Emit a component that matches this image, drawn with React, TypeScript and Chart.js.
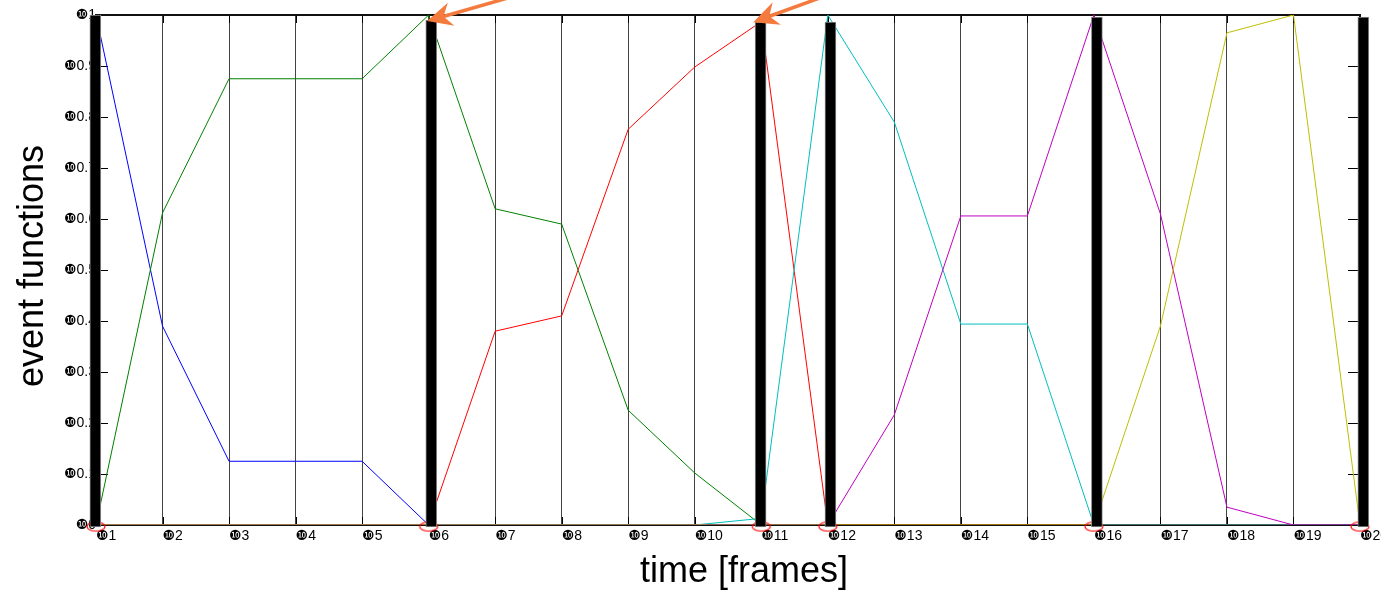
import { useEffect, useRef } from 'react';
import { Chart, registerables } from 'chart.js';

Chart.register(...registerables);

// ---------- data ----------
const frames = [1, 2, 3, 4, 5, 6, 7, 8, 9, 10, 11, 12, 13, 14, 15, 16, 17, 18, 19, 20];
const xTickLabels = ['❿1', '❿2', '❿3', '❿4', '❿5', '❿6', '❿7', '❿8', '❿9', '❿10', '❿11', '❿12', '❿13', '❿14', '❿15', '❿16', '❿17', '❿18', '❿19', '❿20'];
const yTickLabels = ['❿0', '❿0.1', '❿0.2', '❿0.3', '❿0.4', '❿0.5', '❿0.6', '❿0.7', '❿0.8', '❿0.9', '❿1'];

const blueSeries = [1, 0.39, 0.125, 0.125, 0.125, 0, 0, 0, 0, 0, 0, 0, 0, 0, 0, 0, 0, 0, 0, 0];
const greenSeries = [0, 0.612, 0.875, 0.875, 0.875, 1, 0.62, 0.59, 0.225, 0.102, 0, 0, 0, 0, 0, 0, 0, 0, 0, 0];
const redSeries = [0, 0, 0, 0, 0, 0, 0.38, 0.41, 0.776, 0.898, 0.987, 0, 0, 0, 0, 0, 0, 0, 0, 0];
const cyanSeries = [0, 0, 0, 0, 0, 0, 0, 0, 0, 0, 0.013, 1, 0.79, 0.394, 0.394, 0, 0, 0, 0, 0];
const magentaSeries = [0, 0, 0, 0, 0, 0, 0, 0, 0, 0, 0, 0, 0.216, 0.606, 0.606, 1, 0.61, 0.035, 0, 0];
const yellowSeries = [0, 0, 0, 0, 0, 0, 0, 0, 0, 0, 0, 0, 0, 0, 0, 0, 0.39, 0.965, 1, 0];

// event markers (thick black bars) and red ellipses at the detected frames
const eventFrames = [1, 6, 11, 12, 16, 20];
const eventBarX = [0.99, 6.04, 10.99, 12.04, 16.045, 20.05];
const eventBarTop = [1.0, 0.99, 0.986, 0.986, 0.996, 0.996];
const eventBarBase = -0.004;
const eventMarkY = -0.003;

// orange arrows (tip in data units, angle of shaft in degrees)
const arrowTipX = [5.977, 10.88];
const arrowTipY = [0.988, 0.986];
const arrowAngleDeg = [16, 20];

const xTitle = 'time [frames]';
const yTitle = 'event functions';

// ---------- helpers ----------
const FONT = "'Liberation Sans', Arial, 'DejaVu Sans', sans-serif";

function toPoints(series: number[]) {
  return frames.map((f, i) => ({ x: f, y: series[i] }));
}

function makeEllipse(): HTMLCanvasElement {
  const c = document.createElement('canvas');
  c.width = 22;
  c.height = 12;
  const g = c.getContext('2d')!;
  g.strokeStyle = '#ff0000';
  g.lineWidth = 1.2;
  g.beginPath();
  g.ellipse(11, 6, 9, 4.5, 0, 0, Math.PI * 2);
  g.stroke();
  return c;
}

const decorPlugin = {
  id: 'decor',
  beforeDatasetsDraw(chart: any) {
    const { ctx, chartArea: a, scales } = chart;
    const xs = scales.x;
    const ys = scales.y;
    ctx.save();
    ctx.strokeStyle = '#000';
    ctx.lineWidth = 1;
    ctx.beginPath();
    frames.forEach((f) => {
      const px = Math.round(xs.getPixelForValue(f)) + 0.5;
      ctx.moveTo(px, a.top);
      ctx.lineTo(px, a.top + 8);
      ctx.moveTo(px, a.bottom);
      ctx.lineTo(px, a.bottom - 8);
    });
    ys.ticks.forEach((t: any) => {
      const py = Math.round(ys.getPixelForValue(t.value)) + 0.5;
      ctx.moveTo(a.left, py);
      ctx.lineTo(a.left + 12, py);
      ctx.moveTo(a.right, py);
      ctx.lineTo(a.right - 12, py);
    });
    ctx.stroke();
    ctx.lineWidth = 2;
    ctx.strokeStyle = '#111';
    ctx.strokeRect(a.left, a.top, a.right - a.left, a.bottom - a.top);
    ctx.restore();
  },
  afterDraw(chart: any) {
    const { ctx, chartArea: a, scales } = chart;
    const xs = scales.x;
    const ys = scales.y;
    ctx.save();
    // arrows
    arrowTipX.forEach((tx, i) => {
      const px = xs.getPixelForValue(tx);
      const py = ys.getPixelForValue(arrowTipY[i]);
      const th = (arrowAngleDeg[i] * Math.PI) / 180;
      const dx = Math.cos(th);
      const dy = -Math.sin(th);
      const nx = -dy;
      const ny = dx;
      ctx.strokeStyle = '#f47b3d';
      ctx.fillStyle = '#f47b3d';
      ctx.lineWidth = 3.5;
      ctx.beginPath();
      ctx.moveTo(px + dx * 15, py + dy * 15);
      ctx.lineTo(px + dx * 160, py + dy * 160);
      ctx.stroke();
      ctx.beginPath();
      ctx.moveTo(px, py);
      ctx.lineTo(px + dx * 25 + nx * 12, py + dy * 25 + ny * 12);
      ctx.lineTo(px + dx * 17, py + dy * 17);
      ctx.lineTo(px + dx * 25 - nx * 12, py + dy * 25 - ny * 12);
      ctx.closePath();
      ctx.fill();
    });
    // titles
    ctx.fillStyle = '#000';
    ctx.font = `36px ${FONT}`;
    ctx.textAlign = 'center';
    ctx.textBaseline = 'alphabetic';
    ctx.fillText(xTitle, (a.left + a.right) / 2 + 16, a.bottom + 57);
    ctx.translate(43, (a.top + a.bottom) / 2 - 4);
    ctx.rotate(-Math.PI / 2);
    ctx.fillText(yTitle, 0, 0);
    ctx.restore();
  },
};

export default function App() {
  const ref = useRef<HTMLCanvasElement | null>(null);

  useEffect(() => {
    if (!ref.current) return;
    const ellipse = makeEllipse();
    const lineDs = (data: number[], color: string, order: number) => ({
      type: 'line' as const,
      data: toPoints(data),
      borderColor: color,
      backgroundColor: color,
      borderWidth: 1,
      pointRadius: 0,
      tension: 0,
      fill: false,
      order,
    });
    const chart = new Chart(ref.current, {
      type: 'line',
      data: {
        datasets: [
          {
            type: 'bar',
            data: eventBarX.map((x, i) => ({ x, y: [eventBarBase, eventBarTop[i]] })),
            backgroundColor: '#000',
            borderColor: '#8a8a8a',
            borderWidth: 1,
            borderSkipped: false,
            barThickness: 11,
            grouped: false,
            clip: false,
            order: 0,
          } as any,
          {
            type: 'line',
            data: eventFrames.map((f) => ({ x: f, y: eventMarkY })),
            showLine: false,
            pointStyle: ellipse,
            pointRadius: 6,
            borderWidth: 0,
            clip: false,
            order: 1,
          } as any,
          lineDs(yellowSeries, '#bfbf00', 2),
          lineDs(magentaSeries, '#bf00bf', 3),
          lineDs(cyanSeries, '#00bfbf', 4),
          lineDs(redSeries, '#ff0000', 5),
          lineDs(greenSeries, '#008000', 6),
          lineDs(blueSeries, '#0000ff', 7),
        ],
      },
      options: {
        animation: false,
        responsive: true,
        maintainAspectRatio: false,
        layout: { padding: { top: 15, right: 21, bottom: 0, left: 0 } },
        plugins: { legend: { display: false }, tooltip: { enabled: false } },
        events: [],
        scales: {
          x: {
            type: 'linear',
            min: 1,
            max: 20,
            offset: false,
            grid: { display: true, offset: false, color: '#444', lineWidth: 1, drawTicks: false },
            border: { display: false },
            ticks: {
              stepSize: 1,
              autoSkip: false,
              maxRotation: 0,
              minRotation: 0,
              align: 'start',
              padding: 3,
              color: '#000',
              font: { family: FONT, size: 14 },
              callback: (v: any) => xTickLabels[Math.round(Number(v)) - 1] ?? '',
            },
            afterFit: (axis: any) => {
              axis.height = 66;
              axis.paddingLeft = 0;
              axis.paddingRight = 0;
            },
          },
          y: {
            type: 'linear',
            min: 0,
            max: 1,
            grid: { display: false, drawTicks: false },
            border: { display: false },
            ticks: {
              stepSize: 0.1,
              padding: 0,
              color: '#000',
              font: { family: FONT, size: 14 },
              callback: (_v: any, i: number) => yTickLabels[i] ?? '',
            },
            afterFit: (axis: any) => {
              axis.width = 96;
              axis.paddingTop = 0;
              axis.paddingBottom = 0;
            },
          },
        },
      } as any,
      plugins: [decorPlugin],
    });
    return () => chart.destroy();
  }, []);

  return (
    <div style={{ position: 'absolute', left: 0, top: 0, width: 1381, height: 591, background: '#fff' }}>
      <canvas ref={ref} />
    </div>
  );
}
